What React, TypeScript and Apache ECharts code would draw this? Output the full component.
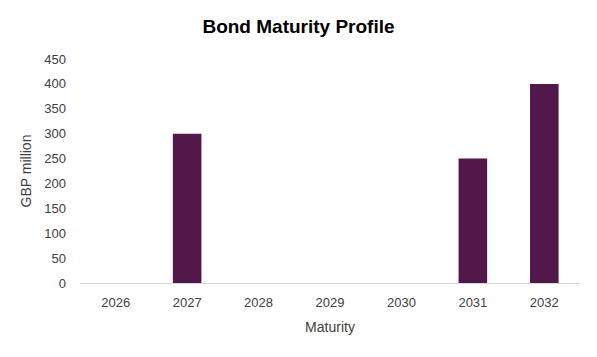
import React, { useEffect, useRef } from "react";
import * as echarts from "echarts";

const categories = ["2026", "2027", "2028", "2029", "2030", "2031", "2032"];
const values = [0, 300, 0, 0, 0, 250, 400];
const title = "Bond Maturity Profile";
const yName = "GBP million";
const xName = "Maturity";

export default function App() {
  const ref = useRef<HTMLDivElement>(null);
  useEffect(() => {
    if (!ref.current) return;
    const chart = echarts.init(ref.current, null, { renderer: "svg" });
    chart.setOption({
      animation: false,
      backgroundColor: "#ffffff",
      title: {
        text: title,
        left: "center",
        top: 12,
        textStyle: { fontFamily: "Liberation Sans", fontWeight: "bold", fontSize: 19, color: "#000" },
      },
      grid: { left: 80, right: 17, top: 59, bottom: 74 },
      xAxis: {
        type: "category",
        data: categories,
        name: xName,
        nameLocation: "middle",
        nameGap: 37,
        nameTextStyle: { fontFamily: "Liberation Sans", fontSize: 14, color: "#404040" },
        axisLine: { lineStyle: { color: "#d9d9d9", width: 1 } },
        axisTick: { show: false },
        axisLabel: { fontFamily: "Liberation Sans", fontSize: 13, color: "#404040", margin: 13 },
      },
      yAxis: {
        type: "value",
        min: 0,
        max: 450,
        interval: 50,
        name: yName,
        nameLocation: "middle",
        nameGap: 41,
        nameTextStyle: { fontFamily: "Liberation Sans", fontSize: 14, color: "#404040" },
        axisLine: { show: false },
        axisTick: { show: false },
        splitLine: { show: false },
        axisLabel: { fontFamily: "Liberation Sans", fontSize: 13, color: "#404040", margin: 14 },
      },
      series: [
        {
          type: "bar",
          data: values,
          barWidth: "40%",
          itemStyle: { color: "#52184A" },
        },
      ],
    });
    return () => chart.dispose();
  }, []);
  return <div ref={ref} style={{ width: 597, height: 357, margin: -8 }} />;
}
